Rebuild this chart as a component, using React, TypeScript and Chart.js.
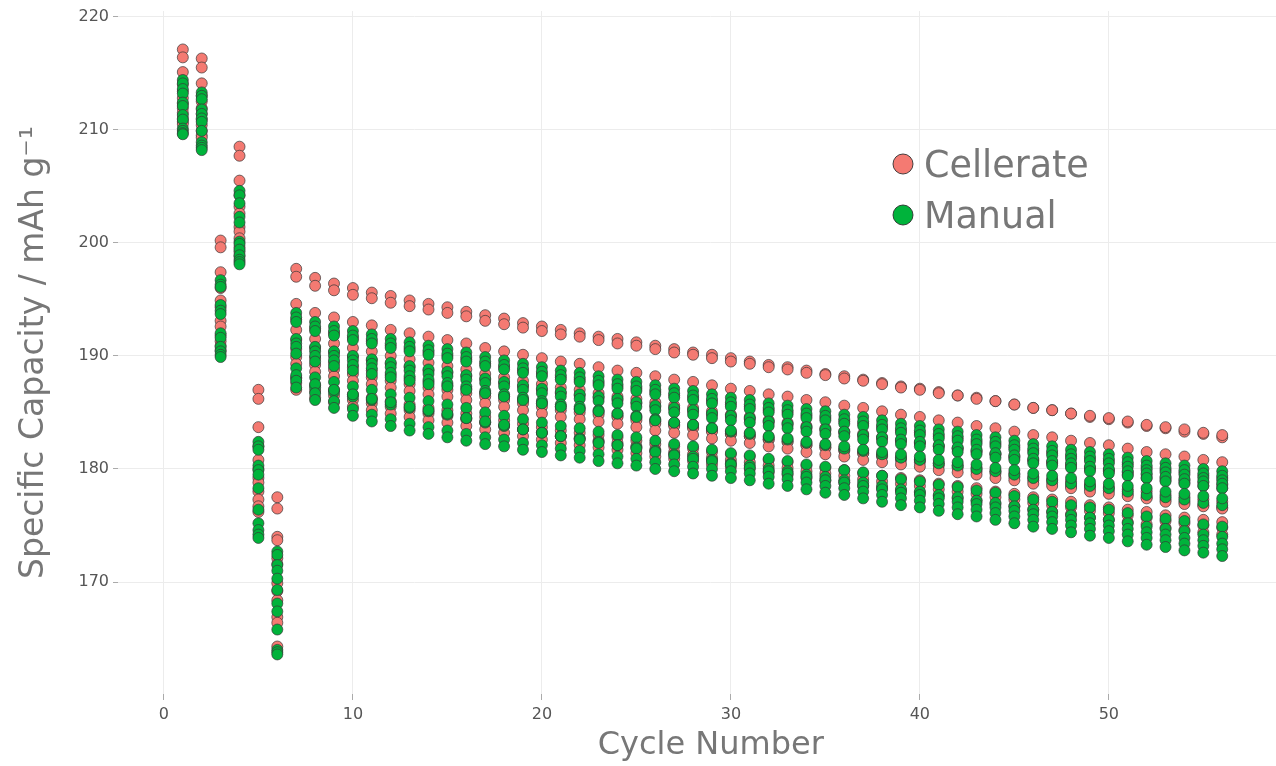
import React, { useEffect, useRef } from "react";
import { Chart, registerables } from "chart.js";

Chart.register(...registerables);

const cycles = [1,2,3,4,5,6,7,8,9,10,11,12,13,14,15,16,17,18,19,20,21,22,23,24,25,26,27,28,29,30,31,32,33,34,35,36,37,38,39,40,41,42,43,44,45,46,47,48,49,50,51,52,53,54,55,56];

// Cellerate cells: specific capacity (mAh/g) per cycle
const cellerate1 = [217.1,216.3,200.2,208.5,187.0,177.5,197.7,196.9,196.4,196.0,195.6,195.3,194.9,194.6,194.3,193.9,193.6,193.3,192.9,192.6,192.3,192.0,191.7,191.5,191.2,190.9,190.6,190.3,190.1,189.8,189.5,189.2,189.0,188.7,188.4,188.2,187.9,187.6,187.3,187.1,186.8,186.5,186.3,186.0,185.7,185.4,185.2,184.9,184.6,184.4,184.1,183.8,183.6,183.3,183.1,182.8];
const cellerate2 = [216.4,215.5,199.6,207.7,186.2,176.5,197.0,196.2,195.8,195.4,195.1,194.7,194.4,194.1,193.8,193.5,193.1,192.8,192.5,192.2,191.9,191.7,191.4,191.1,190.9,190.6,190.3,190.1,189.8,189.5,189.3,189.0,188.8,188.5,188.3,188.0,187.8,187.5,187.2,187.0,186.7,186.5,186.2,186.0,185.7,185.4,185.2,184.9,184.7,184.5,184.2,183.9,183.7,183.5,183.2,183.0];
const cellerate3 = [215.1,214.1,197.4,205.5,183.7,174.0,194.6,193.8,193.4,193.0,192.7,192.3,192.0,191.7,191.4,191.1,190.7,190.4,190.1,189.8,189.5,189.3,189.0,188.7,188.5,188.2,187.9,187.7,187.4,187.1,186.9,186.6,186.4,186.1,185.9,185.6,185.4,185.1,184.8,184.6,184.3,184.1,183.8,183.6,183.3,183.0,182.8,182.5,182.3,182.1,181.8,181.5,181.3,181.1,180.8,180.6];
const cellerate4 = [214.0,213.0,196.0,204.2,182.0,173.7,193.2,192.4,192.0,191.6,191.3,190.9,190.6,190.3,190.0,189.7,189.3,189.0,188.7,188.4,188.1,187.9,187.6,187.3,187.1,186.8,186.5,186.3,186.0,185.7,185.5,185.2,185.0,184.7,184.5,184.2,184.0,183.7,183.4,183.2,182.9,182.7,182.4,182.2,181.9,181.6,181.4,181.1,180.9,180.7,180.4,180.1,179.9,179.7,179.4,179.2];
const cellerate5 = [213.4,212.5,194.9,203.2,180.8,172.1,192.3,191.5,191.1,190.7,190.4,190.0,189.7,189.4,189.1,188.8,188.4,188.1,187.8,187.5,187.2,187.0,186.7,186.4,186.2,185.9,185.6,185.4,185.1,184.8,184.6,184.3,184.1,183.8,183.6,183.3,183.1,182.8,182.5,182.3,182.0,181.8,181.5,181.3,181.0,180.7,180.5,180.2,180.0,179.8,179.5,179.2,179.0,178.8,178.5,178.3];
const cellerate6 = [212.8,211.9,194.3,202.6,180.0,171.6,191.4,190.7,190.3,189.9,189.6,189.3,189.0,188.7,188.5,188.2,187.9,187.6,187.3,187.0,186.7,186.5,186.3,186.1,185.8,185.5,185.3,185.1,184.8,184.6,184.4,184.1,183.9,183.6,183.4,183.2,182.9,182.7,182.5,182.3,182.0,181.8,181.6,181.3,181.1,180.8,180.6,180.4,180.1,179.9,179.7,179.5,179.2,179.0,178.8,178.6];
const cellerate7 = [212.3,211.4,193.1,201.4,179.2,169.9,190.6,189.8,189.4,189.0,188.7,188.3,188.0,187.7,187.4,187.1,186.7,186.4,186.1,185.8,185.5,185.3,185.0,184.7,184.5,184.2,183.9,183.7,183.4,183.1,182.9,182.6,182.4,182.1,181.9,181.6,181.4,181.1,180.8,180.6,180.3,180.1,179.8,179.6,179.3,179.0,178.8,178.5,178.3,178.1,177.8,177.5,177.3,177.1,176.8,176.6];
const cellerate8 = [211.9,210.9,192.6,201.0,178.8,169.2,189.9,189.2,188.8,188.4,188.1,187.8,187.5,187.2,187.0,186.7,186.4,186.1,185.8,185.5,185.2,185.0,184.8,184.6,184.3,184.0,183.8,183.6,183.3,183.1,182.9,182.6,182.4,182.1,181.9,181.7,181.4,181.2,181.0,180.8,180.5,180.3,180.1,179.8,179.6,179.3,179.1,178.9,178.6,178.4,178.2,178.0,177.7,177.5,177.3,177.1];
const cellerate9 = [211.5,210.4,191.8,200.4,178.0,168.4,189.3,188.6,188.2,187.8,187.5,187.2,186.9,186.6,186.4,186.1,185.8,185.5,185.2,184.9,184.6,184.4,184.2,184.0,183.7,183.4,183.2,183.0,182.7,182.5,182.3,182.0,181.8,181.5,181.3,181.1,180.8,180.6,180.4,180.2,179.9,179.7,179.5,179.2,179.0,178.7,178.5,178.3,178.0,177.8,177.6,177.4,177.1,176.9,176.7,176.5];
const cellerate10 = [211.0,209.9,191.3,199.6,177.3,166.9,188.1,187.4,187.0,186.6,186.3,186.0,185.7,185.4,185.2,184.9,184.6,184.3,184.0,183.7,183.4,183.2,183.0,182.8,182.5,182.2,182.0,181.8,181.5,181.3,181.1,180.8,180.6,180.3,180.1,179.9,179.6,179.4,179.2,179.0,178.7,178.5,178.3,178.0,177.8,177.5,177.3,177.1,176.8,176.6,176.4,176.2,175.9,175.7,175.5,175.3];
const cellerate11 = [210.7,209.5,190.9,199.2,176.7,166.4,187.6,186.9,186.5,186.1,185.8,185.5,185.2,184.9,184.7,184.4,184.1,183.8,183.5,183.2,182.9,182.7,182.5,182.3,182.0,181.7,181.5,181.3,181.0,180.8,180.6,180.3,180.1,179.8,179.6,179.4,179.1,178.9,178.7,178.5,178.2,178.0,177.8,177.5,177.3,177.0,176.8,176.6,176.3,176.1,175.9,175.7,175.4,175.2,175.0,174.8];
const cellerate12 = [210.5,209.3,190.5,198.8,176.2,164.3,187.0,186.3,185.9,185.5,185.2,184.9,184.6,184.3,184.1,183.8,183.5,183.2,182.9,182.6,182.3,182.1,181.9,181.7,181.4,181.1,180.9,180.7,180.4,180.2,180.0,179.7,179.5,179.2,179.0,178.8,178.5,178.3,178.1,177.9,177.6,177.4,177.2,176.9,176.7,176.4,176.2,176.0,175.7,175.5,175.3,175.1,174.8,174.6,174.4,174.2];

// Manual cells
const manual1 = [214.4,213.3,196.7,204.6,182.4,172.7,193.8,193.0,192.6,192.2,191.9,191.5,191.2,190.9,190.6,190.3,189.9,189.6,189.3,189.0,188.7,188.5,188.2,187.9,187.7,187.4,187.1,186.9,186.6,186.3,186.1,185.8,185.6,185.3,185.1,184.8,184.6,184.3,184.0,183.8,183.5,183.3,183.0,182.8,182.5,182.2,182.0,181.7,181.5,181.3,181.0,180.7,180.5,180.3,180.0,179.8];
const manual2 = [214.1,213.0,196.3,204.2,182.0,172.4,193.4,192.6,192.2,191.8,191.5,191.1,190.8,190.5,190.2,189.9,189.5,189.2,188.9,188.6,188.3,188.1,187.8,187.5,187.3,187.0,186.7,186.5,186.2,185.9,185.7,185.4,185.2,184.9,184.7,184.4,184.2,183.9,183.6,183.4,183.1,182.9,182.6,182.4,182.1,181.8,181.6,181.3,181.1,180.9,180.6,180.3,180.1,179.9,179.6,179.4];
const manual3 = [213.6,212.7,196.1,203.5,181.7,171.5,193.0,192.2,191.8,191.4,191.1,190.7,190.4,190.1,189.8,189.5,189.1,188.8,188.5,188.2,187.9,187.7,187.4,187.1,186.9,186.6,186.3,186.1,185.8,185.5,185.3,185.0,184.8,184.5,184.3,184.0,183.8,183.5,183.2,183.0,182.7,182.5,182.2,182.0,181.7,181.4,181.2,180.9,180.7,180.5,180.2,179.9,179.7,179.5,179.2,179.0];
const manual4 = [213.2,211.8,194.5,202.3,180.3,171.0,191.5,190.8,190.4,190.0,189.7,189.4,189.1,188.8,188.6,188.3,188.0,187.7,187.4,187.1,186.8,186.6,186.4,186.2,185.9,185.6,185.4,185.2,184.9,184.7,184.5,184.2,184.0,183.7,183.5,183.3,183.0,182.8,182.6,182.4,182.1,181.9,181.7,181.4,181.2,180.9,180.7,180.5,180.2,180.0,179.8,179.6,179.3,179.1,178.9,178.7];
const manual5 = [212.4,211.4,194.0,201.8,179.9,170.3,191.1,190.4,190.0,189.6,189.3,189.0,188.7,188.4,188.2,187.9,187.6,187.3,187.0,186.7,186.4,186.2,186.0,185.8,185.5,185.2,185.0,184.8,184.5,184.3,184.1,183.8,183.6,183.3,183.1,182.9,182.6,182.4,182.2,182.0,181.7,181.5,181.3,181.0,180.8,180.5,180.3,180.1,179.8,179.6,179.4,179.2,178.9,178.7,178.5,178.3];
const manual6 = [212.1,211.0,193.7,200.1,179.5,169.3,190.8,190.0,189.6,189.2,188.9,188.5,188.2,187.9,187.6,187.3,186.9,186.6,186.3,186.0,185.7,185.5,185.2,184.9,184.7,184.4,184.1,183.9,183.6,183.3,183.1,182.8,182.6,182.3,182.1,181.8,181.6,181.3,181.0,180.8,180.5,180.3,180.0,179.8,179.5,179.2,179.0,178.7,178.5,178.3,178.0,177.7,177.5,177.3,177.0,176.8];
const manual7 = [211.3,210.7,192.0,199.9,178.3,168.1,190.2,189.5,189.1,188.7,188.4,188.1,187.8,187.5,187.3,187.0,186.7,186.4,186.1,185.8,185.5,185.3,185.1,184.9,184.6,184.3,184.1,183.9,183.6,183.4,183.2,182.9,182.7,182.4,182.2,182.0,181.7,181.5,181.3,181.1,180.8,180.6,180.4,180.1,179.9,179.6,179.4,179.2,178.9,178.7,178.5,178.3,178.0,177.8,177.6,177.4];
const manual8 = [210.9,209.9,191.6,199.4,176.4,167.4,188.9,188.1,187.7,187.3,187.0,186.6,186.3,186.0,185.7,185.4,185.0,184.7,184.4,184.1,183.8,183.6,183.3,183.0,182.8,182.5,182.2,182.0,181.7,181.4,181.2,180.9,180.7,180.4,180.2,179.9,179.7,179.4,179.1,178.9,178.6,178.4,178.1,177.9,177.6,177.3,177.1,176.8,176.6,176.4,176.1,175.8,175.6,175.4,175.1,174.9];
const manual9 = [210.1,208.9,190.8,198.9,175.2,165.8,188.0,187.2,186.8,186.4,186.1,185.7,185.4,185.1,184.8,184.5,184.1,183.8,183.5,183.2,182.9,182.7,182.4,182.1,181.9,181.6,181.3,181.1,180.8,180.5,180.3,180.0,179.8,179.5,179.3,179.0,178.8,178.5,178.2,178.0,177.7,177.5,177.2,177.0,176.7,176.4,176.2,175.9,175.7,175.5,175.2,174.9,174.7,174.5,174.2,174.0];
const manual10 = [209.9,208.6,190.4,198.5,174.6,164.0,188.3,187.5,187.0,186.6,186.2,185.9,185.5,185.2,184.9,184.5,184.2,183.9,183.5,183.2,182.9,182.6,182.3,182.1,181.8,181.5,181.2,180.9,180.7,180.4,180.1,179.8,179.6,179.3,179.0,178.8,178.5,178.2,177.9,177.7,177.4,177.1,176.9,176.6,176.3,176.0,175.8,175.5,175.2,175.0,174.7,174.4,174.2,173.9,173.7,173.4];
const manual11 = [209.7,208.4,190.1,198.3,174.2,163.8,187.8,186.7,186.0,185.3,184.8,184.4,184.0,183.7,183.4,183.1,182.8,182.6,182.3,182.1,181.8,181.6,181.3,181.1,180.9,180.6,180.4,180.2,180.0,179.8,179.6,179.3,179.1,178.8,178.5,178.3,178.0,177.7,177.4,177.2,176.9,176.6,176.4,176.1,175.8,175.5,175.3,175.0,174.7,174.5,174.2,173.9,173.7,173.4,173.2,172.9];
const manual12 = [209.6,208.2,189.9,198.1,173.9,163.6,187.2,186.1,185.4,184.7,184.2,183.8,183.4,183.1,182.8,182.5,182.2,182.0,181.7,181.5,181.2,181.0,180.7,180.5,180.3,180.0,179.8,179.6,179.4,179.2,179.0,178.7,178.5,178.2,177.9,177.7,177.4,177.1,176.8,176.6,176.3,176.0,175.8,175.5,175.2,174.9,174.7,174.4,174.1,173.9,173.6,173.3,173.1,172.8,172.6,172.3];

const cellerateCells = [cellerate1, cellerate2, cellerate3, cellerate4, cellerate5, cellerate6, cellerate7, cellerate8, cellerate9, cellerate10, cellerate11, cellerate12];
const manualCells = [manual1, manual2, manual3, manual4, manual5, manual6, manual7, manual8, manual9, manual10, manual11, manual12];

const xTicks = [0, 10, 20, 30, 40, 50];
const yTicks = [170, 180, 190, 200, 210, 220];
const seriesNames = ["Cellerate", "Manual"];

const RED = "#F47A72";
const GREEN = "#00B33B";
const EDGE = "rgba(55,55,55,0.7)";
const FONT = "'DejaVu Sans', Verdana, sans-serif";

function toPoints(cells: number[][]) {
  const pts: { x: number; y: number }[] = [];
  cells.forEach((cell) => {
    cell.forEach((v, i) => pts.push({ x: cycles[i], y: v }));
  });
  return pts;
}

const legendPlugin = {
  id: "insideLegend",
  afterDraw(chart: any) {
    const ctx = chart.ctx;
    const items = [
      { label: seriesNames[0], color: RED, y: 164 },
      { label: seriesNames[1], color: GREEN, y: 215 },
    ];
    ctx.save();
    items.forEach((it) => {
      ctx.beginPath();
      ctx.arc(903, it.y, 10, 0, Math.PI * 2);
      ctx.fillStyle = it.color;
      ctx.fill();
      ctx.lineWidth = 1;
      ctx.strokeStyle = "rgba(40,40,40,0.85)";
      ctx.stroke();
      ctx.fillStyle = "#777777";
      ctx.font = `36.5px ${FONT}`;
      ctx.textAlign = "left";
      ctx.textBaseline = "alphabetic";
      ctx.fillText(it.label, 924, it.y + 13);
    });
    ctx.restore();
  },
};

export default function App() {
  const ref = useRef<HTMLCanvasElement | null>(null);
  useEffect(() => {
    if (!ref.current) return;
    const chart = new Chart(ref.current, {
      type: "scatter",
      data: {
        datasets: [
          {
            label: seriesNames[0],
            data: toPoints(cellerateCells),
            backgroundColor: RED,
            borderColor: EDGE,
            borderWidth: 1,
            pointRadius: 5.5,
            order: 2,
          },
          {
            label: seriesNames[1],
            data: toPoints(manualCells),
            backgroundColor: GREEN,
            borderColor: EDGE,
            borderWidth: 1,
            pointRadius: 5.5,
            order: 1,
          },
        ],
      },
      options: {
        animation: false,
        responsive: true,
        maintainAspectRatio: false,
        layout: { padding: { top: 11, right: 6, left: 0, bottom: 0 } },
        plugins: { legend: { display: false }, tooltip: { enabled: false } },
        scales: {
          x: {
            type: "linear",
            min: -2.43,
            max: 60.3,
            afterBuildTicks: (s: any) => {
              s.ticks = xTicks.map((v) => ({ value: v }));
            },
            afterFit: (s: any) => {
              s.height = 72;
              s.paddingLeft = 0;
              s.paddingRight = 0;
            },
            grid: { color: "#ececec", lineWidth: 1, drawTicks: true, tickLength: 6, tickColor: "#aaaaaa" },
            border: { display: false },
            ticks: { color: "#555555", font: { family: FONT, size: 16 }, padding: 5, maxRotation: 0 },
            title: {
              display: true,
              text: "Cycle Number",
              color: "#777777",
              font: { family: FONT, size: 32 },
              padding: { top: 0, bottom: 1 },
            },
          },
          y: {
            type: "linear",
            min: 160.1,
            max: 220.5,
            afterBuildTicks: (s: any) => {
              s.ticks = yTicks.map((v) => ({ value: v }));
            },
            afterFit: (s: any) => {
              s.width = 118;
              s.paddingTop = 0;
              s.paddingBottom = 0;
            },
            grid: { color: "#ececec", lineWidth: 1, drawTicks: true, tickLength: 5, tickColor: "#aaaaaa" },
            border: { display: false },
            ticks: { color: "#555555", font: { family: FONT, size: 16 }, padding: 4 },
            title: {
              display: true,
              text: "Specific Capacity / mAh g⁻¹",
              color: "#777777",
              font: { family: FONT, size: 33 },
              padding: { top: 15, bottom: 0 },
            },
          },
        },
      },
      plugins: [legendPlugin],
    });
    return () => chart.destroy();
  }, []);

  return (
    <div style={{ position: "fixed", left: 0, top: 0, width: 1276, height: 766, overflow: "hidden", background: "#fff" }}>
      <div style={{ position: "absolute", left: 0, top: 0, width: 1310, height: 766 }}>
        <canvas ref={ref} />
      </div>
    </div>
  );
}
